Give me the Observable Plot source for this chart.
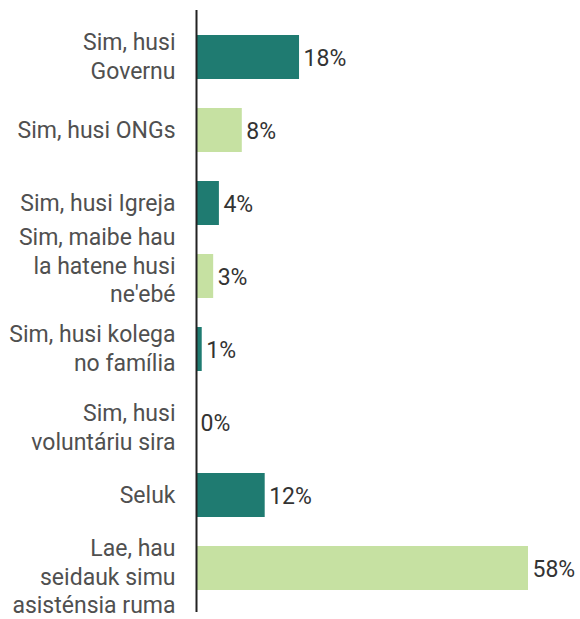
<!DOCTYPE html>
<html>
<head>
<meta charset="utf-8">
<script src="https://cdn.jsdelivr.net/npm/d3@7"></script>
<script src="https://cdn.jsdelivr.net/npm/@observablehq/plot@0.6"></script>
<style>
  html, body { margin: 0; padding: 0; background: #fff; }
  #chart svg { display: block; }
</style>
</head>
<body>
<div id="chart"></div>
<script>
const categories = [
  "Sim, husi\nGovernu",
  "Sim, husi ONGs",
  "Sim, husi Igreja",
  "Sim, maibe hau\nla hatene husi\nne'ebé",
  "Sim, husi kolega\nno família",
  "Sim, husi\nvoluntáriu sira",
  "Seluk",
  "Lae, hau\nseidauk simu\nasisténsia ruma"
];
const values = [18, 8, 4, 3, 1, 0, 12, 58];

const TEAL = "#1f7b71";
const LIGHT = "#c6e1a2";

const data = categories.map((c, i) => ({cat: c, value: values[i], idx: i}));

// small vertical nudges of some category labels, as in the original layout
const labelNudge = i => (i === 3 ? -12 : i === 7 ? 7 : i === 5 ? 4 : -2);
const nudges = Array.from(new Set(data.map(d => labelNudge(d.idx))));

const chart = Plot.plot({
  width: 580,
  height: 619,
  marginLeft: 196,
  marginRight: 52,
  marginTop: 19,
  marginBottom: 14,
  style: {fontFamily: "Roboto, sans-serif", background: "#fff"},
  x: {domain: [0, 58], axis: null},
  y: {domain: categories, axis: null, paddingInner: 0.4, paddingOuter: 0.2},
  marks: [
    Plot.barX(data, {
      x: "value", y: "cat",
      fill: d => d.idx % 2 === 0 ? TEAL : LIGHT
    }),
    Plot.ruleX([0], {stroke: "#222", strokeWidth: 2, insetTop: -9, insetBottom: -7}),
    ...nudges.map(n => Plot.text(data.filter(d => labelNudge(d.idx) === n), {
      x: 0, y: "cat", text: "cat",
      textAnchor: "end", dx: -21, dy: n,
      fontSize: 23, lineHeight: 1.24, fill: "#505050"
    })),
    Plot.text(data, {
      x: "value", y: "cat", text: d => d.value + "%",
      textAnchor: "start", dx: 4, dy: 1,
      fontSize: 23, fill: "#333"
    })
  ]
});
document.getElementById("chart").appendChild(chart);
</script>
</body>
</html>
